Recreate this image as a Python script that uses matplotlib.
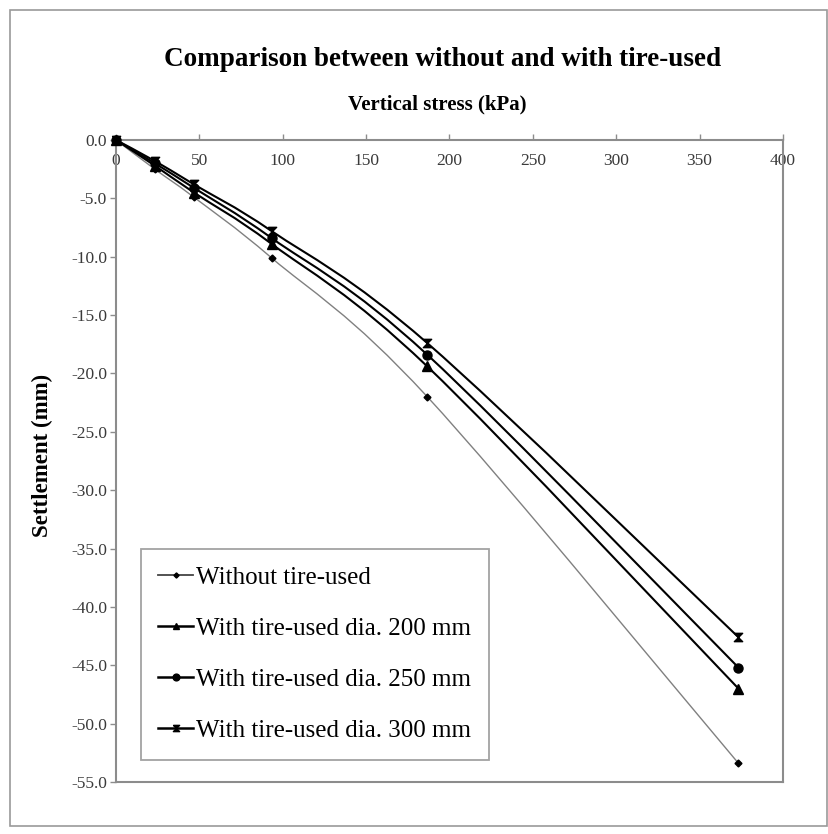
import numpy as np
import matplotlib
matplotlib.use("Agg")
import matplotlib.pyplot as plt
from matplotlib.path import Path
from matplotlib.patches import PathPatch, Rectangle
from matplotlib.lines import Line2D

# ---- data ----
stress = [0, 23.3, 46.7, 93.3, 186.7, 373.3]
without_tire = [0.0, -2.5, -4.9, -10.1, -22.0, -53.4]
dia_200 = [0.0, -2.2, -4.5, -8.9, -19.4, -47.0]
dia_250 = [0.0, -2.0, -4.1, -8.4, -18.4, -45.2]
dia_300 = [0.0, -1.8, -3.8, -7.8, -17.4, -42.6]
series_labels = ["Without tire-used", "With tire-used dia. 200 mm",
                 "With tire-used dia. 250 mm", "With tire-used dia. 300 mm"]
x_ticks = [0, 50, 100, 150, 200, 250, 300, 350, 400]
y_ticks = [0, -5, -10, -15, -20, -25, -30, -35, -40, -45, -50, -55]

serif = "Liberation Serif"
W, H = 829, 834
fig = plt.figure(figsize=(W / 100, H / 100), dpi=100)
fig.patch.set_facecolor("white")

# outer chart border
fig.patches.append(Rectangle((10 / W, 1 - 826 / H), (827 - 10) / W, (826 - 10) / H,
                             transform=fig.transFigure, fill=False,
                             edgecolor="#9a9a9a", linewidth=1.2))

ax = fig.add_axes([116 / W, 1 - 782 / H, (783 - 116) / W, (782 - 140) / H])
ax.set_xlim(0, 400)
ax.set_ylim(-55, 0)


def smooth_path(xs, ys):
    pts = np.column_stack([xs, ys]).astype(float)
    n = len(pts)
    verts = [pts[0]]
    codes = [Path.MOVETO]
    for i in range(n - 1):
        p0 = pts[i - 1] if i > 0 else pts[i]
        p1 = pts[i]
        p2 = pts[i + 1]
        p3 = pts[i + 2] if i + 2 < n else pts[i + 1]
        c1 = p1 + (p2 - p0) / 6.0
        c2 = p2 - (p3 - p1) / 6.0
        verts += [c1, c2, p2]
        codes += [Path.CURVE4] * 3
    return Path(verts, codes)


hourglass = [(-1, 1), (1, 1), (-1, -1), (1, -1), (-1, 1)]
styles = [
    (without_tire, "#808080", 1.0, "D", 3.5),
    (dia_200, "black", 1.5, "^", 6.5),
    (dia_250, "black", 1.5, "o", 6.5),
    (dia_300, "black", 1.5, hourglass, 6),
]
handles = []
for (vals, col, lw, mk, ms), lab in zip(styles, series_labels):
    ax.add_patch(PathPatch(smooth_path(stress, vals), fill=False,
                           edgecolor=col, linewidth=lw, zorder=3))
    ax.plot(stress, vals, linestyle="none", marker=mk, markersize=ms,
            color="black", zorder=4, clip_on=False)
    handles.append(Line2D([], [], color="black" if lw > 1.2 else "#444444",
                          linewidth=lw + 0.3, marker=mk, markersize=ms * 0.75,
                          markerfacecolor="black", markeredgecolor="black"))

for s in ax.spines.values():
    s.set_color("#8c8c8c")
    s.set_linewidth(1.5)

ax.set_xticks(x_ticks)
ax.set_xticklabels([str(v) for v in x_ticks])
ax.set_yticks(y_ticks)
ax.set_yticklabels([f"{v:.1f}" for v in y_ticks])
ax.tick_params(axis="x", top=True, bottom=False, labeltop=True, labelbottom=False,
               direction="out", length=4, width=1, color="#8c8c8c", pad=-25)
ax.tick_params(axis="y", left=True, right=False, direction="out", length=4,
               width=1, color="#8c8c8c", pad=2.5)
for lbl in ax.get_xticklabels() + ax.get_yticklabels():
    lbl.set_fontfamily(serif)
    lbl.set_fontsize(12.5)
    lbl.set_color("#3a3a3a")

fig.text(443 / W, 1 - 60 / H, "Comparison between without and with tire-used",
         ha="center", va="center", fontsize=19.5, fontweight="bold", family=serif)
fig.text(437 / W, 1 - 104 / H, "Vertical stress (kPa)", ha="center", va="center",
         fontsize=15, fontweight="bold", family=serif)
fig.text(42 / W, 1 - 455 / H, "Settlement (mm)", ha="center", va="center",
         rotation=90, fontsize=16.5, fontweight="bold", family=serif)

leg = fig.legend(handles, series_labels, loc="upper left",
                 bbox_to_anchor=(141 / W, 1 - 549 / H), bbox_transform=fig.transFigure,
                 prop={"family": serif, "size": 18}, frameon=True, fancybox=False,
                 edgecolor="#8c8c8c", handlelength=1.4, handletextpad=0.1,
                 labelspacing=1.14, borderpad=0.7, borderaxespad=0)
leg.get_frame().set_linewidth(1.3)

fig.savefig("out.png", dpi=100)
